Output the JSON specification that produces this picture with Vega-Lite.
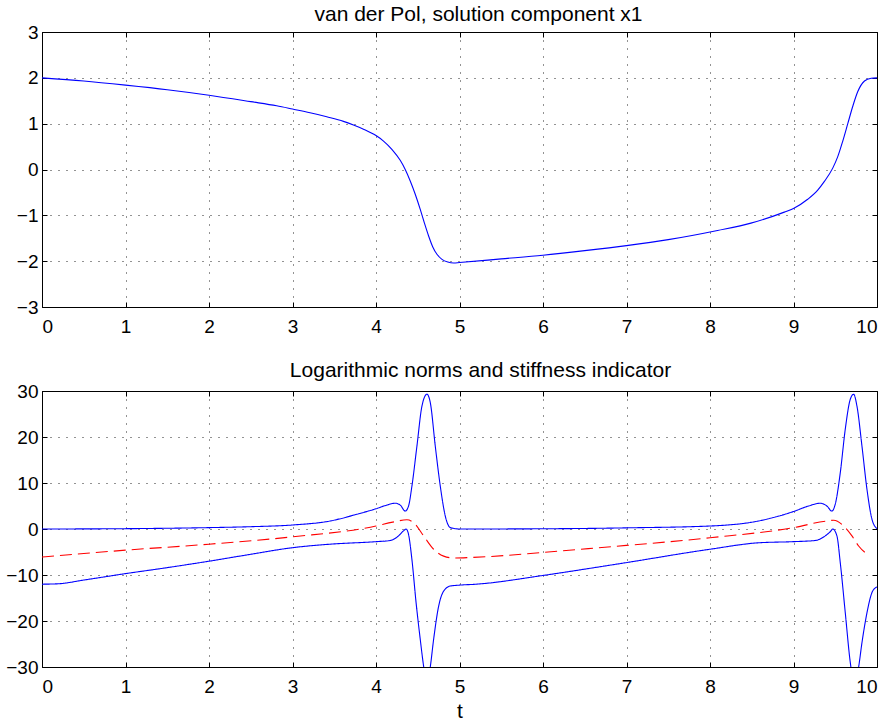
{
  "$schema": "https://vega.github.io/schema/vega-lite/v6.json",
  "padding": {"left": 5, "top": 3, "right": 4, "bottom": 4},
  "spacing": 84,
  "bounds": "flush",
  "config": {
    "font": "Liberation Sans",
    "view": {"stroke": "black", "strokeWidth": 1},
    "axis": {
      "domain": false,
      "grid": true,
      "gridColor": "black",
      "gridDash": [1, 7],
      "gridWidth": 1,
      "gridOpacity": 0.85,
      "ticks": true,
      "tickColor": "black",
      "tickSize": -5,
      "tickWidth": 1,
      "labelColor": "black",
      "labelFont": "Liberation Sans",
      "labelFontSize": 19,
      "titleFont": "Liberation Sans",
      "titleFontSize": 21,
      "titleFontWeight": "normal",
      "titleColor": "black"
    },
    "title": {"font": "Liberation Sans", "fontSize": 21, "fontWeight": "normal", "color": "black", "baseline": "alphabetic"}
  },
  "datasets": {
    "x1": [
      {"t": 0, "v": 2.0}, {"t": 0.5, "v": 1.93}, {"t": 1, "v": 1.84}, {"t": 1.5, "v": 1.74},
      {"t": 2, "v": 1.62}, {"t": 2.5, "v": 1.48}, {"t": 2.81, "v": 1.39}, {"t": 3, "v": 1.32},
      {"t": 3.21, "v": 1.24}, {"t": 3.41, "v": 1.15}, {"t": 3.61, "v": 1.05}, {"t": 3.73, "v": 0.97},
      {"t": 3.85, "v": 0.88}, {"t": 4, "v": 0.74}, {"t": 4.09, "v": 0.62}, {"t": 4.19, "v": 0.44},
      {"t": 4.29, "v": 0.2}, {"t": 4.35, "v": 0.0}, {"t": 4.41, "v": -0.25}, {"t": 4.47, "v": -0.54},
      {"t": 4.53, "v": -0.87}, {"t": 4.58, "v": -1.17}, {"t": 4.63, "v": -1.45}, {"t": 4.68, "v": -1.69},
      {"t": 4.73, "v": -1.85}, {"t": 4.79, "v": -1.96}, {"t": 4.86, "v": -2.02}, {"t": 4.93, "v": -2.04},
      {"t": 5.0, "v": -2.03}, {"t": 5.5, "v": -1.95}, {"t": 6, "v": -1.87}, {"t": 6.5, "v": -1.77},
      {"t": 7, "v": -1.66}, {"t": 7.5, "v": -1.53}, {"t": 8.09, "v": -1.33}, {"t": 8.49, "v": -1.17},
      {"t": 8.89, "v": -0.93}, {"t": 9, "v": -0.85}, {"t": 9.17, "v": -0.65}, {"t": 9.29, "v": -0.45},
      {"t": 9.37, "v": -0.26}, {"t": 9.47, "v": 0.03}, {"t": 9.53, "v": 0.28}, {"t": 9.59, "v": 0.62},
      {"t": 9.65, "v": 1.0}, {"t": 9.71, "v": 1.38}, {"t": 9.77, "v": 1.7}, {"t": 9.85, "v": 1.93},
      {"t": 9.93, "v": 1.99}, {"t": 10, "v": 2.0}
    ],
    "norms": [
      {"s": "upper", "t": 0, "v": 0.0}, {"s": "upper", "t": 1, "v": 0.07}, {"s": "upper", "t": 2, "v": 0.3},
      {"s": "upper", "t": 2.5, "v": 0.5}, {"s": "upper", "t": 3, "v": 0.87}, {"s": "upper", "t": 3.45, "v": 1.74},
      {"s": "upper", "t": 3.77, "v": 3.2}, {"s": "upper", "t": 4, "v": 4.4}, {"s": "upper", "t": 4.13, "v": 5.2},
      {"s": "upper", "t": 4.23, "v": 5.6}, {"s": "upper", "t": 4.29, "v": 5.2}, {"s": "upper", "t": 4.35, "v": 3.9},
      {"s": "upper", "t": 4.39, "v": 5.0}, {"s": "upper", "t": 4.43, "v": 9.3}, {"s": "upper", "t": 4.49, "v": 18.0},
      {"s": "upper", "t": 4.55, "v": 26.7}, {"s": "upper", "t": 4.61, "v": 29.3}, {"s": "upper", "t": 4.65, "v": 27.5},
      {"s": "upper", "t": 4.71, "v": 18.0}, {"s": "upper", "t": 4.77, "v": 9.3}, {"s": "upper", "t": 4.83, "v": 2.8},
      {"s": "upper", "t": 4.89, "v": 0.3}, {"s": "upper", "t": 5.0, "v": 0.0}, {"s": "upper", "t": 6, "v": 0.05},
      {"s": "upper", "t": 6.65, "v": 0.15}, {"s": "upper", "t": 7, "v": 0.25}, {"s": "upper", "t": 8, "v": 0.65},
      {"s": "upper", "t": 8.58, "v": 1.74}, {"s": "upper", "t": 9, "v": 3.8}, {"s": "upper", "t": 9.18, "v": 5.0},
      {"s": "upper", "t": 9.32, "v": 5.6}, {"s": "upper", "t": 9.4, "v": 5.0}, {"s": "upper", "t": 9.46, "v": 3.9},
      {"s": "upper", "t": 9.5, "v": 5.4}, {"s": "upper", "t": 9.56, "v": 12.2}, {"s": "upper", "t": 9.62, "v": 21.7},
      {"s": "upper", "t": 9.68, "v": 28.2}, {"s": "upper", "t": 9.72, "v": 29.3}, {"s": "upper", "t": 9.76, "v": 26.7},
      {"s": "upper", "t": 9.82, "v": 18.0}, {"s": "upper", "t": 9.88, "v": 8.6}, {"s": "upper", "t": 9.94, "v": 2.1},
      {"s": "upper", "t": 10, "v": 0.07},
      {"s": "lower", "t": 0, "v": -12.0}, {"s": "lower", "t": 0.2, "v": -11.9}, {"s": "lower", "t": 0.5, "v": -11.1},
      {"s": "lower", "t": 1, "v": -9.7}, {"s": "lower", "t": 1.5, "v": -8.4}, {"s": "lower", "t": 2, "v": -7.0},
      {"s": "lower", "t": 2.5, "v": -5.5}, {"s": "lower", "t": 3, "v": -4.06}, {"s": "lower", "t": 3.45, "v": -3.3},
      {"s": "lower", "t": 4, "v": -2.75}, {"s": "lower", "t": 4.17, "v": -2.5}, {"s": "lower", "t": 4.27, "v": -1.5},
      {"s": "lower", "t": 4.33, "v": -0.4}, {"s": "lower", "t": 4.36, "v": 0.0}, {"s": "lower", "t": 4.39, "v": -1.2},
      {"s": "lower", "t": 4.43, "v": -6.6}, {"s": "lower", "t": 4.48, "v": -16.0}, {"s": "lower", "t": 4.53, "v": -24.0},
      {"s": "lower", "t": 4.57, "v": -29.8}, {"s": "lower", "t": 4.61, "v": -34.0}, {"s": "lower", "t": 4.65, "v": -30.0},
      {"s": "lower", "t": 4.69, "v": -24.0}, {"s": "lower", "t": 4.75, "v": -16.8}, {"s": "lower", "t": 4.81, "v": -13.5},
      {"s": "lower", "t": 4.89, "v": -12.4}, {"s": "lower", "t": 5.0, "v": -12.2}, {"s": "lower", "t": 5.2, "v": -12.0},
      {"s": "lower", "t": 6, "v": -10.1}, {"s": "lower", "t": 6.65, "v": -8.3}, {"s": "lower", "t": 7, "v": -7.3},
      {"s": "lower", "t": 8, "v": -4.4}, {"s": "lower", "t": 8.58, "v": -3.0}, {"s": "lower", "t": 9, "v": -2.75},
      {"s": "lower", "t": 9.26, "v": -2.5}, {"s": "lower", "t": 9.38, "v": -1.5}, {"s": "lower", "t": 9.44, "v": -0.6},
      {"s": "lower", "t": 9.47, "v": 0.0}, {"s": "lower", "t": 9.52, "v": -1.5}, {"s": "lower", "t": 9.56, "v": -7.3},
      {"s": "lower", "t": 9.62, "v": -18.2}, {"s": "lower", "t": 9.68, "v": -29.0}, {"s": "lower", "t": 9.73, "v": -34.0},
      {"s": "lower", "t": 9.78, "v": -30.0}, {"s": "lower", "t": 9.82, "v": -24.7}, {"s": "lower", "t": 9.88, "v": -18.2},
      {"s": "lower", "t": 9.94, "v": -13.8}, {"s": "lower", "t": 9.98, "v": -12.8}, {"s": "lower", "t": 10, "v": -12.6},
      {"s": "stiff", "t": 0, "v": -6.1}, {"s": "stiff", "t": 1, "v": -4.6}, {"s": "stiff", "t": 2, "v": -3.3},
      {"s": "stiff", "t": 3, "v": -1.7}, {"s": "stiff", "t": 4, "v": 0.65}, {"s": "stiff", "t": 4.2, "v": 1.5},
      {"s": "stiff", "t": 4.37, "v": 2.0}, {"s": "stiff", "t": 4.45, "v": 1.4}, {"s": "stiff", "t": 4.57, "v": -1.5},
      {"s": "stiff", "t": 4.69, "v": -4.4}, {"s": "stiff", "t": 4.81, "v": -5.9}, {"s": "stiff", "t": 4.93, "v": -6.3},
      {"s": "stiff", "t": 5.13, "v": -6.2}, {"s": "stiff", "t": 6, "v": -5.1}, {"s": "stiff", "t": 6.65, "v": -4.1},
      {"s": "stiff", "t": 8, "v": -1.9}, {"s": "stiff", "t": 9, "v": 0.3}, {"s": "stiff", "t": 9.38, "v": 1.7},
      {"s": "stiff", "t": 9.48, "v": 1.9}, {"s": "stiff", "t": 9.62, "v": 0.3}, {"s": "stiff", "t": 9.7, "v": -1.5},
      {"s": "stiff", "t": 9.78, "v": -3.7}, {"s": "stiff", "t": 9.9, "v": -5.7}
    ]
  },
  "vconcat": [
    {
      "width": 835,
      "height": 275,
      "title": {"text": "van der Pol, solution component x1", "offset": -2, "dx": 19},
      "data": {"name": "x1"},
      "layer": [
        {
          "mark": {"type": "line", "color": "#0000ff", "strokeWidth": 1.1, "clip": true, "interpolate": "monotone"},
          "encoding": {
            "x": {"field": "t", "type": "quantitative", "scale": {"domain": [0, 10], "nice": false},
                  "axis": {"orient": "bottom", "values": [0,1,2,3,4,5,6,7,8,9,10], "title": null, "labelPadding": 15}},
            "y": {"field": "v", "type": "quantitative", "scale": {"domain": [-3, 3], "nice": false, "zero": false},
                  "axis": {"orient": "left", "values": [-3,-2,-1,0,1,2,3], "title": null, "labelPadding": 9}}
          }
        },
        {
          "mark": {"type": "line", "opacity": 0},
          "encoding": {
            "x": {"field": "t", "type": "quantitative", "scale": {"domain": [0, 10], "nice": false},
                  "axis": {"orient": "top", "values": [0,1,2,3,4,5,6,7,8,9,10], "title": null, "labels": false, "grid": false}},
            "y": {"field": "v", "type": "quantitative", "scale": {"domain": [-3, 3], "nice": false, "zero": false},
                  "axis": {"orient": "right", "values": [-3,-2,-1,0,1,2,3], "title": null, "labels": false, "grid": false}}
          }
        }
      ],
      "resolve": {"axis": {"x": "independent", "y": "independent"}}
    },
    {
      "width": 835,
      "height": 276,
      "title": {"text": "Logarithmic norms and stiffness indicator", "offset": 1, "dx": 21},
      "data": {"name": "norms"},
      "layer": [
        {
          "mark": {"type": "line", "strokeWidth": 1.1, "clip": true, "interpolate": "monotone"},
          "encoding": {
            "x": {"field": "t", "type": "quantitative", "scale": {"domain": [0, 10], "nice": false},
                  "axis": {"orient": "bottom", "values": [0,1,2,3,4,5,6,7,8,9,10], "title": "t", "labelPadding": 15, "titlePadding": 4}},
            "y": {"field": "v", "type": "quantitative", "scale": {"domain": [-30, 30], "nice": false, "zero": false},
                  "axis": {"orient": "left", "values": [-30,-20,-10,0,10,20,30], "title": null, "labelPadding": 9}},
            "detail": {"field": "s"},
            "color": {"field": "s", "type": "nominal", "scale": {"domain": ["upper", "lower", "stiff"], "range": ["#0000ff", "#0000ff", "#ff0000"]}, "legend": null},
            "strokeDash": {"field": "s", "type": "nominal", "scale": {"domain": ["upper", "lower", "stiff"], "range": [[1, 0], [1, 0], [12, 6]]}, "legend": null}
          }
        },
        {
          "mark": {"type": "line", "opacity": 0},
          "encoding": {
            "x": {"field": "t", "type": "quantitative", "scale": {"domain": [0, 10], "nice": false},
                  "axis": {"orient": "top", "values": [0,1,2,3,4,5,6,7,8,9,10], "title": null, "labels": false, "grid": false}},
            "y": {"field": "v", "type": "quantitative", "scale": {"domain": [-30, 30], "nice": false, "zero": false},
                  "axis": {"orient": "right", "values": [-30,-20,-10,0,10,20,30], "title": null, "labels": false, "grid": false}},
            "detail": {"field": "s"}
          }
        }
      ],
      "resolve": {"axis": {"x": "independent", "y": "independent"}}
    }
  ]
}
